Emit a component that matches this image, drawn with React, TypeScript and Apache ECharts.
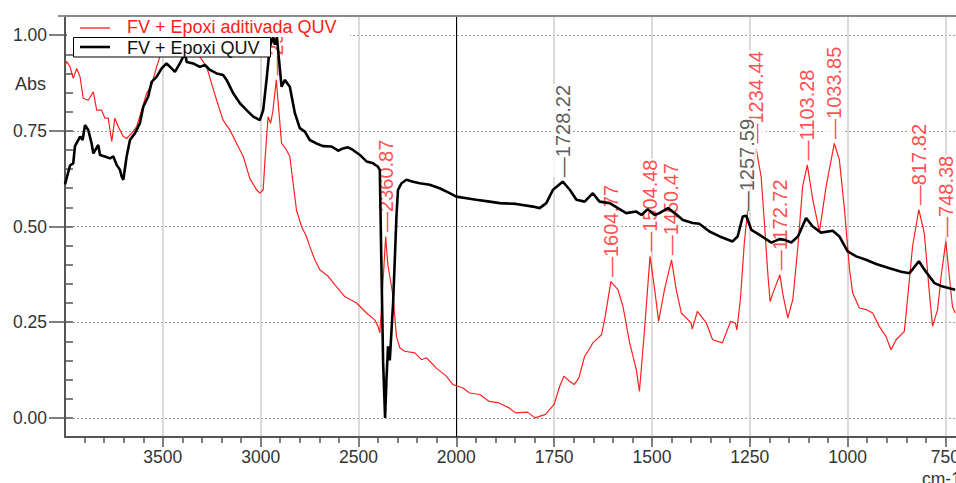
import React, { useEffect, useRef } from "react";
import * as echarts from "echarts";

// ---------- data (wavenumber in cm-1, absorbance) ----------
const legendNames = ["FV + Epoxi aditivada QUV", "FV + Epoxi QUV"];

const blackWavenumbers = [
  4000, 3974, 3958, 3949, 3923, 3910, 3898, 3881, 3864, 3855, 3830, 3821, 3796, 3770, 3753, 3736, 3719, 3710, 3702,
  3685, 3668, 3642, 3617, 3600, 3575, 3557, 3532, 3506, 3481, 3455, 3438, 3413, 3396, 3387, 3378, 3345, 3311, 3285,
  3259, 3225, 3192, 3174, 3140, 3106, 3072, 3038, 3004, 2987, 2970, 2953, 2936, 2927, 2917, 2907, 2893, 2876, 2851,
  2825, 2800, 2774, 2749, 2715, 2681, 2638, 2604, 2579, 2553, 2528, 2493, 2459, 2425, 2400, 2391, 2383, 2374, 2364,
  2357, 2349, 2340, 2331, 2323, 2315, 2306, 2298, 2280, 2255, 2221, 2187, 2136, 2085, 2034, 2000, 1974, 1949, 1915,
  1889, 1847, 1804, 1787, 1770, 1753, 1728, 1710, 1693, 1672, 1651, 1634, 1608, 1587, 1566, 1540, 1527, 1511, 1493,
  1481, 1459, 1442, 1421, 1396, 1379, 1353, 1327, 1294, 1281, 1268, 1259, 1246, 1225, 1195, 1174, 1161, 1144, 1127,
  1106, 1089, 1068, 1038, 1021, 1000, 978, 953, 927, 893, 863, 842, 818, 800, 778, 757, 725,
];
const blackAbs = [
  0.61, 0.66, 0.665, 0.71, 0.735, 0.726, 0.765, 0.752, 0.717, 0.691, 0.713, 0.687, 0.683, 0.678, 0.683, 0.661, 0.648,
  0.63, 0.622, 0.683, 0.726, 0.744, 0.77, 0.813, 0.839, 0.878, 0.891, 0.913, 0.926, 0.913, 0.904, 0.926, 0.944, 0.955,
  0.93, 0.926, 0.917, 0.922, 0.909, 0.9, 0.896, 0.883, 0.848, 0.822, 0.804, 0.787, 0.778, 0.804, 0.883, 0.97, 0.996,
  0.975, 0.995, 0.94, 0.865, 0.883, 0.865, 0.796, 0.757, 0.748, 0.726, 0.717, 0.71, 0.709, 0.698, 0.704, 0.707, 0.7,
  0.687, 0.67, 0.665, 0.656, 0.648, 0.405, 0.144, 0.0, 0.1, 0.187, 0.15, 0.23, 0.3, 0.405, 0.526, 0.596, 0.613, 0.622,
  0.617, 0.613, 0.609, 0.6, 0.587, 0.578, 0.574, 0.57, 0.565, 0.561, 0.559, 0.552, 0.548, 0.561, 0.596, 0.617, 0.596,
  0.57, 0.565, 0.587, 0.565, 0.561, 0.548, 0.535, 0.539, 0.53, 0.545, 0.53, 0.535, 0.548, 0.535, 0.517, 0.509, 0.507,
  0.487, 0.474, 0.461, 0.474, 0.526, 0.528, 0.491, 0.478, 0.458, 0.467, 0.465, 0.458, 0.474, 0.522, 0.5, 0.484, 0.489,
  0.474, 0.435, 0.422, 0.413, 0.402, 0.391, 0.382, 0.378, 0.409, 0.382, 0.352, 0.343, 0.335,
];

const redWavenumbers = [
  4000, 3991, 3974, 3958, 3940, 3923, 3907, 3881, 3855, 3838, 3813, 3796, 3779, 3761, 3745, 3728, 3702, 3685, 3659,
  3634, 3608, 3583, 3557, 3532, 3515, 3464, 3413, 3362, 3311, 3276, 3251, 3225, 3192, 3157, 3123, 3089, 3055, 3021,
  3004, 2987, 2979, 2962, 2949, 2938, 2920, 2906, 2893, 2868, 2851, 2834, 2817, 2791, 2766, 2749, 2723, 2698, 2655,
  2621, 2570, 2510, 2459, 2417, 2400, 2391, 2381, 2361, 2350, 2340, 2323, 2306, 2289, 2264, 2212, 2178, 2153, 2102,
  2051, 2017, 1983, 1966, 1940, 1916, 1891, 1865, 1848, 1818, 1799, 1772, 1750, 1736, 1725, 1710, 1699, 1687, 1672,
  1661, 1651, 1629, 1621, 1605, 1587, 1574, 1557, 1540, 1532, 1519, 1505, 1493, 1483, 1468, 1450, 1438, 1425, 1400,
  1397, 1384, 1361, 1345, 1320, 1299, 1287, 1283, 1274, 1264, 1251, 1234, 1221, 1212, 1204, 1198, 1191, 1173, 1166,
  1153, 1140, 1127, 1115, 1103, 1089, 1072, 1055, 1034, 1021, 1008, 995, 987, 970, 953, 936, 919, 902, 889, 876, 855,
  847, 834, 818, 804, 791, 783, 770, 761, 749, 740, 732, 725,
];
const redAbs = [
  0.92, 0.931, 0.917, 0.887, 0.913, 0.891, 0.835, 0.83, 0.852, 0.804, 0.804, 0.783, 0.783, 0.722, 0.783, 0.761, 0.735,
  0.73, 0.744, 0.761, 0.804, 0.848, 0.87, 0.917, 0.944, 0.965, 0.975, 0.97, 0.944, 0.917, 0.874, 0.83, 0.778, 0.752,
  0.717, 0.683, 0.625, 0.596, 0.587, 0.596, 0.665, 0.787, 0.77, 0.8, 0.883, 0.796, 0.717, 0.7, 0.683, 0.613, 0.543,
  0.5, 0.474, 0.448, 0.413, 0.387, 0.37, 0.348, 0.317, 0.3, 0.274, 0.256, 0.239, 0.222, 0.3, 0.474, 0.4, 0.37, 0.317,
  0.213, 0.183, 0.174, 0.17, 0.152, 0.157, 0.13, 0.109, 0.087, 0.078, 0.065, 0.061, 0.043, 0.039, 0.026, 0.013, 0.015,
  0.0, 0.009, 0.035, 0.082, 0.109, 0.095, 0.087, 0.104, 0.161, 0.178, 0.196, 0.217, 0.256, 0.356, 0.335, 0.291, 0.196,
  0.126, 0.069, 0.23, 0.422, 0.335, 0.252, 0.335, 0.413, 0.335, 0.274, 0.248, 0.232, 0.278, 0.248, 0.204, 0.196, 0.252,
  0.248, 0.23, 0.309, 0.457, 0.587, 0.705, 0.63, 0.5, 0.378, 0.304, 0.326, 0.374, 0.326, 0.261, 0.309, 0.448, 0.604,
  0.661, 0.57, 0.487, 0.604, 0.717, 0.674, 0.544, 0.387, 0.326, 0.287, 0.283, 0.274, 0.239, 0.213, 0.178, 0.204, 0.226,
  0.309, 0.448, 0.544, 0.483, 0.326, 0.239, 0.283, 0.37, 0.461, 0.37, 0.291, 0.274,
];

const peakLabels = [
  "2920.22", "2360.87", "1728.22", "1604.77", "1504.48", "1450.47", "1257.59",
  "1234.44", "1172.72", "1103.28", "1033.85", "817.82", "748.38",
];
const peakAbs = [0.883, 0.474, 0.617, 0.356, 0.422, 0.413, 0.528, 0.705, 0.374, 0.661, 0.717, 0.544, 0.461];
const peakOwner = [0, 0, 1, 0, 0, 0, 1, 0, 0, 0, 0, 0, 0]; // 0 = red series, 1 = black series

const xTickLabels = [3500, 3000, 2500, 2000, 1750, 1500, 1250, 1000, 750];
const yTickLabels = [0, 0.25, 0.5, 0.75, 1.0];
const axisStart = 4000;
const axisEnd = 723;
const scaleBreak = 2000;

// Axis with a 2x compression above 2000 cm-1 (as in the instrument software)
const toAxis = (w: number) => (w >= scaleBreak ? (axisStart - w) / 2 : (axisStart - scaleBreak) / 2 + (scaleBreak - w));
const fromAxis = (t: number) =>
  t <= (axisStart - scaleBreak) / 2 ? axisStart - 2 * t : scaleBreak - (t - (axisStart - scaleBreak) / 2);

const RED = "#ff2020";
const TXT = "#333";
const FONT = '"Liberation Sans", Arial, sans-serif';
const NARROW = '"Liberation Sans Narrow", "Arial Narrow", "Liberation Sans", sans-serif';

export default function App() {
  const ref = useRef<HTMLDivElement>(null);

  useEffect(() => {
    if (!ref.current) return;
    const chart = echarts.init(ref.current, null, { renderer: "svg" });

    const redData = redWavenumbers.map((w, i) => [toAxis(w), redAbs[i]]);
    const blackData = blackWavenumbers.map((w, i) => [toAxis(w), blackAbs[i]]);
    const peaksFor = (owner: number) =>
      peakLabels
        .map((t, i) => ({ name: t, value: [toAxis(parseFloat(t)), peakAbs[i]], owner: peakOwner[i] }))
        .filter((p) => p.owner === owner)
        .map((p) => ({ name: p.name, value: p.value }));

    const peakLabel = (color: string) => ({
      show: true,
      position: "top",
      distance: 4,
      rotate: 90,
      align: "left",
      verticalAlign: "middle",
      color,
      fontFamily: NARROW,
      fontSize: 20,
      backgroundColor: "#fff",
      padding: [0, 1, 0, 0],
      formatter: (p: any) => "\u2014" + p.name,
    });

    chart.setOption({
      animation: false,
      grid: { left: 65, right: 0, top: 16, bottom: 46, containLabel: false, outerBoundsMode: "none" },
      xAxis: {
        type: "value",
        min: 0,
        max: toAxis(axisEnd),
        interval: 250,
        axisLine: { show: true, onZero: false, lineStyle: { color: "#555", width: 2 } },
        axisTick: { show: true, length: 10, lineStyle: { color: "#555", width: 1.5 }, customValues: xTickLabels.map(toAxis) },
        minorTick: { show: true, splitNumber: 5, length: 6, lineStyle: { color: "#555", width: 1.5 } },
        axisLabel: {
          customValues: xTickLabels.map(toAxis),
          formatter: (v: number) => String(Math.round(fromAxis(v))),
          color: TXT,
          fontFamily: FONT,
          fontSize: 17.5,
          margin: 11,
          hideOverlap: false,
        },
        splitLine: { show: true, lineStyle: { color: "#cfcfcf", width: 1.5 } },
      },
      yAxis: [
        {
          type: "value",
          min: -0.05,
          max: 1.05,
          axisLine: { show: true, onZero: false, lineStyle: { color: "#555", width: 2 } },
          axisTick: { show: true, length: 16, lineStyle: { color: "#555", width: 1.5 }, customValues: yTickLabels },
          axisLabel: {
            customValues: yTickLabels,
            formatter: (v: number) => v.toFixed(2),
            color: TXT,
            fontFamily: FONT,
            fontSize: 17.5,
            margin: 18,
          },
          splitLine: { show: true, lineStyle: { color: "#9a9a9a", width: 1, type: [2, 2] } },
        },
        {
          type: "value",
          min: -0.05,
          max: 1.05,
          interval: 0.05,
          axisLine: { show: false },
          axisTick: { show: true, length: 8, lineStyle: { color: "#555", width: 1.5 } },
          axisLabel: { show: false },
          splitLine: { show: false },
        },
      ],
      series: [
        {
          name: legendNames[0],
          type: "line",
          z: 2,
          data: redData,
          showSymbol: false,
          symbol: "none",
          lineStyle: { color: RED, width: 1.2 },
          markLine: {
            silent: true,
            z: 1,
            symbol: "none",
            label: { show: false },
            lineStyle: { color: "#000", width: 1, type: "solid" },
            data: [{ xAxis: toAxis(scaleBreak) }],
          },
        },
        {
          type: "scatter",
          z: 2,
          symbolSize: 1,
          itemStyle: { color: "rgba(0,0,0,0)" },
          data: peaksFor(0),
          label: peakLabel(RED),
        },
        {
          name: legendNames[1],
          type: "line",
          z: 3,
          data: blackData,
          showSymbol: false,
          symbol: "none",
          lineStyle: { color: "#000", width: 2.6 },
        },
        {
          type: "scatter",
          z: 4,
          symbolSize: 1,
          itemStyle: { color: "rgba(0,0,0,0)" },
          data: peaksFor(1),
          label: peakLabel(TXT),
        },
      ],
      graphic: [
        { type: "rect", z: 50, shape: { x: 0, y: 0, width: 956, height: 15 }, style: { fill: "#fff" } },
        { type: "line", z: 51, shape: { x1: 58, y1: 16, x2: 956, y2: 16 }, style: { stroke: "#8c8c8c", lineWidth: 2 } },
        { type: "rect", z: 40, shape: { x: 67, y: 17, width: 283, height: 20 }, style: { fill: "#fff" } },
        { type: "line", z: 41, shape: { x1: 80, y1: 28, x2: 110, y2: 28 }, style: { stroke: RED, lineWidth: 1.3 } },
        {
          type: "text",
          z: 41,
          x: 127,
          y: 27,
          style: { text: legendNames[0], fill: RED, font: `18px ${FONT}`, verticalAlign: "middle" },
        },
        {
          type: "rect",
          z: 42,
          shape: { x: 73.5, y: 37.5, width: 197, height: 19.5 },
          style: { fill: "#fff", stroke: "#000", lineWidth: 1 },
        },
        { type: "line", z: 43, shape: { x1: 80, y1: 47, x2: 110, y2: 47 }, style: { stroke: "#000", lineWidth: 2.6 } },
        {
          type: "text",
          z: 43,
          x: 127,
          y: 48,
          style: { text: legendNames[1], fill: "#111", font: `18px ${FONT}`, verticalAlign: "middle" },
        },
        {
          type: "text",
          z: 43,
          x: 15,
          y: 84,
          style: { text: "Abs", fill: TXT, font: `18px ${FONT}`, verticalAlign: "middle" },
        },
        {
          type: "text",
          z: 43,
          x: 922,
          y: 470,
          style: { text: "cm-1", fill: TXT, font: `17.5px ${FONT}`, verticalAlign: "top" },
        },
      ],
    });

    return () => chart.dispose();
  }, []);

  return (
    <div
      ref={ref}
      style={{ position: "fixed", left: 0, top: 0, width: 956, height: 483, background: "#fff" }}
    />
  );
}
